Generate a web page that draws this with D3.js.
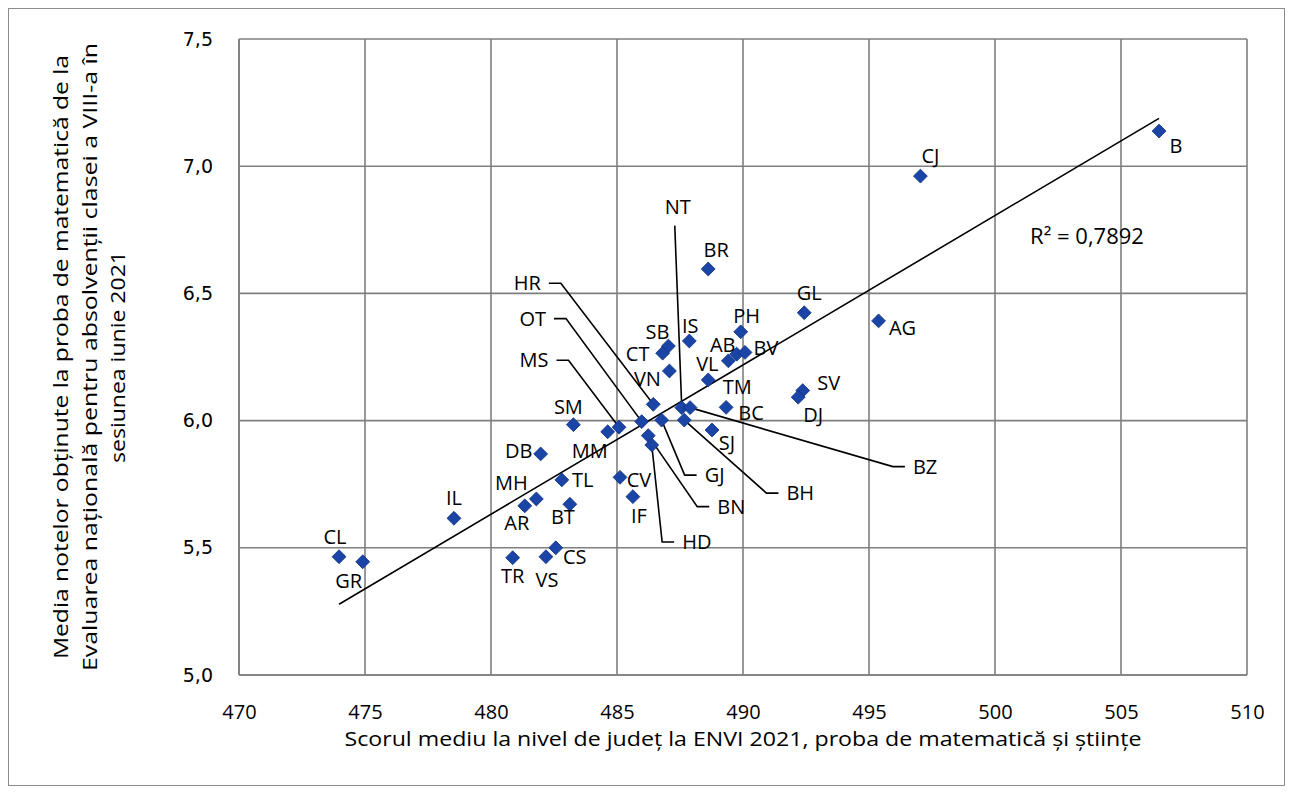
<!DOCTYPE html>
<html>
<head>
<meta charset="utf-8">
<script src="https://cdn.jsdelivr.net/npm/d3@7/dist/d3.min.js"></script>
<style>
  body { margin: 0; background: #fff; }
  svg text { font-family: "Open Sans", sans-serif; fill: #000; }
</style>
</head>
<body>
<svg id="chart" width="1293" height="794"></svg>
<script>
// county codes, ENVI 2021 mean score (x) and EN VIII math mean grade (y)
var counties = ['B', 'CJ', 'BR', 'GL', 'AG', 'PH', 'IS', 'SB', 'CT', 'VL', 'AB', 'BV',
  'VN', 'TM', 'SV', 'DJ', 'BC', 'HR', 'NT', 'BZ', 'BH', 'GJ', 'OT', 'BN', 'HD', 'MS',
  'MM', 'SM', 'SJ', 'DB', 'TL', 'MH', 'AR', 'BT', 'CV', 'IF', 'IL', 'CL', 'GR', 'TR', 'VS', 'CS'];
var scoreEnvi = [506.51, 497.04, 488.62, 492.43, 495.38, 489.91, 487.87, 487.04, 486.81, 489.42, 489.75, 490.08,
  487.08, 488.62, 492.37, 492.19, 489.33, 486.44, 487.57, 487.90, 487.67, 486.77, 485.98, 486.24, 486.38, 485.08,
  484.63, 483.27, 488.77, 481.97, 482.81, 481.80, 481.34, 483.13, 485.12, 485.63, 478.53, 473.97, 474.91, 480.86, 482.18, 482.57];
var mathGrade = [7.138, 6.961, 6.596, 6.424, 6.392, 6.349, 6.313, 6.293, 6.265, 6.235, 6.261, 6.268,
  6.195, 6.160, 6.118, 6.092, 6.052, 6.064, 6.051, 6.051, 6.002, 6.002, 5.996, 5.941, 5.904, 5.974,
  5.956, 5.984, 5.963, 5.869, 5.767, 5.692, 5.665, 5.671, 5.777, 5.701, 5.616, 5.465, 5.445, 5.461, 5.465, 5.500];
var xTicks = [470, 475, 480, 485, 490, 495, 500, 505, 510];
var yTicks = [5.0, 5.5, 6.0, 6.5, 7.0, 7.5];
var r2Text = 'R² = 0,7892';
var xTitle = 'Scorul mediu la nivel de județ la ENVI 2021, proba de matematică și științe';
var yTitle = ['Media notelor obținute la proba de matematică de la',
  'Evaluarea națională pentru absolvenții clasei a VIII-a în',
  'sesiunea iunie 2021'];

// label placement (offset of label centre from the marker, px)
var labelPos = {
  B: [17, 15], CJ: [10, -20], BR: [8, -19], GL: [5, -20], AG: [24, 7], PH: [6, -16],
  IS: [1, -15], SB: [-11, -14], CT: [-25, 1], VL: [-21, 3], AB: [-14, -9], BV: [21, -4],
  VN: [-22, 8], TM: [29, 7], SV: [26, -8], DJ: [15, 18], BC: [25, 6], SJ: [15, 13],
  SM: [-5, -18], MM: [-18, 19], DB: [-22, -3], TL: [21, 0], MH: [-25, -16], AR: [-8, 17],
  BT: [-7, 13], CV: [19, 3], IF: [6, 19], IL: [0, -20], CL: [-4, -20], GR: [-14, 19],
  TR: [0, 18], VS: [1, 23], CS: [19, 9]
};
// labels moved away from the cluster, drawn with a leader line
var leaderPos = {
  NT: [-4, -201], HR: [-126, -121], OT: [-109, -103], MS: [-85, -67],
  GJ: [53, 55], BN: [83, 71], HD: [45, 97], BH: [116, 73], BZ: [235, 59]
};

(function() {
  var svg = d3.select('#chart'),
      pLeft = 239, pRight = 1247, pTop = 39, pBottom = 675;

  var x = d3.scaleLinear().domain([470, 510]).range([pLeft, pRight]),
      y = d3.scaleLinear().domain([5, 7.5]).range([pBottom, pTop]);

  var data = counties.map(function(c, i) {
    return { code: c, x: scoreEnvi[i], y: mathGrade[i] };
  });

  // outer chart border
  svg.append('rect')
    .attr('x', 8.5).attr('y', 8.5)
    .attr('width', 1276).attr('height', 777)
    .attr('fill', 'none')
    .attr('stroke', '#8c8c8c');

  // gridlines
  svg.append('g')
    .selectAll('line')
    .data(xTicks)
    .enter().append('line')
      .attr('x1', function(d) { return x(d); })
      .attr('x2', function(d) { return x(d); })
      .attr('y1', pTop).attr('y2', pBottom)
      .attr('stroke', '#7f7f7f')
      .attr('stroke-width', 1.6);
  svg.append('g')
    .selectAll('line')
    .data(yTicks)
    .enter().append('line')
      .attr('y1', function(d) { return y(d); })
      .attr('y2', function(d) { return y(d); })
      .attr('x1', pLeft).attr('x2', pRight)
      .attr('stroke', '#7f7f7f')
      .attr('stroke-width', 1.6);

  // axes (labels only)
  var xAxis = svg.append('g')
    .attr('transform', 'translate(0,' + pBottom + ')')
    .call(d3.axisBottom(x).tickValues(xTicks).tickSize(0).tickFormat(d3.format('d')));
  var yAxis = svg.append('g')
    .attr('transform', 'translate(' + pLeft + ',0)')
    .call(d3.axisLeft(y).tickValues(yTicks).tickSize(0).tickPadding(26)
      .tickFormat(function(d) { return d3.format('.1f')(d).replace('.', ','); }));
  svg.selectAll('.domain').remove();
  xAxis.attr('font-size', null).attr('font-family', null);
  yAxis.attr('font-size', null).attr('font-family', null);
  svg.selectAll('.tick text').attr('fill', '#000');
  xAxis.selectAll('.tick text')
    .attr('y', 37)
    .attr('dy', '0.35em')
    .style('font-family', '"Open Sans", sans-serif')
    .style('font-size', '20px');
  yAxis.selectAll('.tick text')
    .style('font-family', '"DejaVu Sans", sans-serif')
    .style('font-size', '19px');

  // axis titles
  svg.append('text')
    .attr('x', (pLeft + pRight) / 2)
    .attr('y', 746)
    .attr('text-anchor', 'middle')
    .attr('textLength', 797)
    .attr('lengthAdjust', 'spacingAndGlyphs')
    .style('font-size', '20px')
    .text(xTitle);

  var yLens = [604, 628, 212];
  yTitle.forEach(function(line, i) {
    svg.append('text')
      .attr('transform', 'translate(' + (68 + i * 28.5) + ',' + ((pTop + pBottom) / 2) + ') rotate(-90)')
      .attr('text-anchor', 'middle')
      .attr('textLength', yLens[i])
      .attr('lengthAdjust', 'spacingAndGlyphs')
      .style('font-size', '20px')
      .text(line);
  });

  // linear trend line
  var mx = d3.mean(data, function(d) { return d.x; }),
      my = d3.mean(data, function(d) { return d.y; }),
      sxy = d3.sum(data, function(d) { return (d.x - mx) * (d.y - my); }),
      sxx = d3.sum(data, function(d) { return (d.x - mx) * (d.x - mx); }),
      slope = sxy / sxx,
      icpt = my - slope * mx,
      xExt = d3.extent(data, function(d) { return d.x; });

  svg.append('line')
    .attr('x1', x(xExt[0])).attr('y1', y(icpt + slope * xExt[0]))
    .attr('x2', x(xExt[1])).attr('y2', y(icpt + slope * xExt[1]))
    .attr('stroke', '#000')
    .attr('stroke-width', 1.6);

  svg.append('text')
    .attr('x', 1087).attr('y', 236)
    .attr('dy', '0.35em')
    .attr('text-anchor', 'middle')
    .style('font-size', '22px')
    .text(r2Text);

  // leader-line labels
  var leaderG = svg.append('g');
  data.filter(function(d) { return leaderPos[d.code]; }).forEach(function(d) {
    var px = x(d.x), py = y(d.y),
        off = leaderPos[d.code],
        lx = px + off[0], ly = py + off[1];
    var t = leaderG.append('text')
      .attr('x', lx).attr('y', ly)
      .attr('dy', '0.35em')
      .attr('text-anchor', 'middle')
      .style('font-size', '20px')
      .text(d.code);
    var w = t.node().getComputedTextLength(),
        pts;
    if (Math.abs(off[0]) < 20) {
      pts = [[lx - 3, ly + 19], [px, py]];
    } else if (off[0] < 0) {
      pts = [[lx + w / 2 + 8, ly], [lx + w / 2 + 20, ly], [px, py]];
    } else {
      pts = [[lx - w / 2 - 8, ly], [lx - w / 2 - 20, ly], [px, py]];
    }
    leaderG.append('path')
      .attr('d', d3.line()(pts))
      .attr('fill', 'none')
      .attr('stroke', '#000')
      .attr('stroke-width', 1.6);
  });

  // frame lines of the plot
  svg.append('line')
    .attr('x1', pLeft).attr('x2', pLeft).attr('y1', pTop).attr('y2', pBottom)
    .attr('stroke', '#7f7f7f').attr('stroke-width', 1.6);
  svg.append('line')
    .attr('x1', pLeft).attr('x2', pRight).attr('y1', pBottom).attr('y2', pBottom)
    .attr('stroke', '#7f7f7f').attr('stroke-width', 1.6);

  // markers
  svg.append('g')
    .selectAll('path')
    .data(data)
    .enter().append('path')
      .attr('d', d3.symbol(d3.symbolSquare, 96))
      .attr('transform', function(d) { return 'translate(' + x(d.x) + ',' + y(d.y) + ') rotate(45)'; })
      .attr('fill', '#1a45a6')
      .attr('stroke', '#0f3182')
      .attr('stroke-width', 0.8);

  // point labels
  svg.append('g')
    .selectAll('text')
    .data(data.filter(function(d) { return labelPos[d.code]; }))
    .enter().append('text')
      .attr('x', function(d) { return x(d.x) + labelPos[d.code][0]; })
      .attr('y', function(d) { return y(d.y) + labelPos[d.code][1]; })
      .attr('dy', '0.35em')
      .attr('text-anchor', 'middle')
      .style('font-size', '20px')
      .text(function(d) { return d.code; });
})();
</script>
</body>
</html>
